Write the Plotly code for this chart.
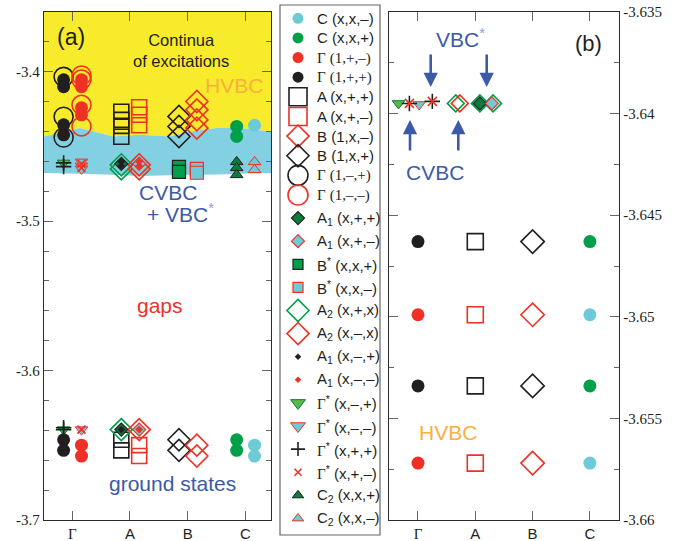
import plotly.graph_objects as go

W, H = 681, 541

# ---------------- data ----------------
k_labels = ["Γ", "A", "B", "C"]
k_index = {"G": 0, "A": 1, "B": 2, "C": 3}

# panel (a): energies per symmetry sector
G_1pp = [-3.4054, -3.4100, -3.4355, -3.4422, -3.6463, -3.6534]
G_1pm = [-3.4054, -3.4100, -3.4241, -3.4288, -3.6499, -3.6572]
G_1mp = [-3.4034, -3.4301, -3.4440]
G_1mm = [-3.4025, -3.4052, -3.4221, -3.4366]
A_xpp = [-3.4268, -3.4322, -3.4362, -3.4435, -3.6463, -3.6534]
A_xpm = [-3.4238, -3.4288, -3.4358, -3.6499, -3.6572]
B_1xp = [-3.4299, -3.4366, -3.4433, -3.6463, -3.6534]
B_1xm = [-3.4199, -3.4255, -3.4322, -3.4377, -3.6499, -3.6572]
C_xxp = [-3.4366, -3.4433, -3.6463, -3.6534]
C_xxm = [-3.4358, -3.6499, -3.6572]
A1_xpp = [-3.4616, -3.6395]
A1_xpm = [-3.4616, -3.6395]
Bs_xxp = [-3.4636, -3.4670]
Bs_xxm = [-3.4650, -3.4676]
A2_xpx = [-3.4623, -3.4650, -3.6395]
A2_xmx = [-3.4623, -3.4650, -3.6395]
A1_xmp = [-3.4603, -3.4630, -3.6395]
A1_xmm = [-3.4603, -3.4630, -3.6395]
Gs_xmp = [-3.4610, -3.6395]
Gs_xmm = [-3.4603, -3.4630, -3.4650, -3.6395]
Gs_xpp = [-3.4610, -3.4635, -3.6383, -3.6395]
Gs_xpm = [-3.4616, -3.4643, -3.6395]
C2_xxp = [-3.4603, -3.4643, -3.4690]
C2_xxm = [-3.4603, -3.4656]

# continuum boundaries in panel (a)
band_k = [-0.49, 0.134, 0.706, 1.174, 1.694, 2.04, 2.509, 2.908, 3.445]
hvbc_edge = [-3.4433, -3.4377, -3.4433, -3.4422, -3.4433, -3.4400, -3.4377, -3.4377, -3.4400]
cvbc_edge = [-3.4677, -3.4683, -3.4690, -3.4697, -3.4693, -3.4690, -3.4687, -3.4683, -3.4677]

# panel (b): near-degenerate excited states, spread out horizontally
b_top_sector = ["Gs_xmp", "Gs_xmm", "Gs_xpp", "Gs_xpm", "Gs_xpp", "Gs_xpm",
                "A2_xpx", "A2_xmx", "A2_xpx", "A2_xpx", "A1_xpp", "A1_xpm"]
b_top_k = [-0.34, 0.02, -0.15, -0.15, 0.25, 0.25, 0.66, 0.73, 1.08, 1.31, 1.08, 1.29]
b_top_E = [-3.6395, -3.63955, -3.6395, -3.6395, -3.6394, -3.6394,
           -3.6395, -3.6395, -3.6395, -3.6395, -3.6395, -3.6395]

sectors = {
    "G_1pp": ("G", -1, G_1pp), "G_1pm": ("G", 1, G_1pm),
    "G_1mp": ("G", -1, G_1mp), "G_1mm": ("G", 1, G_1mm),
    "A_xpp": ("A", -1, A_xpp), "A_xpm": ("A", 1, A_xpm),
    "B_1xp": ("B", -1, B_1xp), "B_1xm": ("B", 1, B_1xm),
    "C_xxp": ("C", -1, C_xxp), "C_xxm": ("C", 1, C_xxm),
    "A1_xpp": ("A", -1, A1_xpp), "A1_xpm": ("A", 1, A1_xpm),
    "Bs_xxp": ("B", -1, Bs_xxp), "Bs_xxm": ("B", 1, Bs_xxm),
    "A2_xpx": ("A", -1, A2_xpx), "A2_xmx": ("A", 1, A2_xmx),
    "A1_xmp": ("A", -1, A1_xmp), "A1_xmm": ("A", 1, A1_xmm),
    "Gs_xmp": ("G", -1, Gs_xmp), "Gs_xmm": ("G", 1, Gs_xmm),
    "Gs_xpp": ("G", -1, Gs_xpp), "Gs_xpm": ("G", 1, Gs_xpm),
    "C2_xxp": ("C", -1, C2_xxp), "C2_xxm": ("C", 1, C2_xxm),
}

legend_order = ["C_xxm", "C_xxp", "G_1pm", "G_1pp", "A_xpp", "A_xpm", "B_1xm", "B_1xp",
                "G_1mp", "G_1mm", "A1_xpp", "A1_xpm", "Bs_xxp", "Bs_xxm", "A2_xpx", "A2_xmx",
                "A1_xmp", "A1_xmm", "Gs_xmp", "Gs_xmm", "Gs_xpp", "Gs_xpm", "C2_xxp", "C2_xxm"]

GAM = '<span style="font-family:Liberation Serif">Γ</span>'
legend_labels = {
    "C_xxm": "C (x,x,–)", "C_xxp": "C (x,x,+)",
    "G_1pm": GAM + ' <span style="font-family:Liberation Serif">(1,+,–)</span>',
    "G_1pp": GAM + ' <span style="font-family:Liberation Serif">(1,+,+)</span>',
    "A_xpp": "A (x,+,+)", "A_xpm": "A (x,+,–)",
    "B_1xm": "B (1,x,–)", "B_1xp": "B (1,x,+)",
    "G_1mp": GAM + ' <span style="font-family:Liberation Serif">(1,–,+)</span>',
    "G_1mm": GAM + ' <span style="font-family:Liberation Serif">(1,–,–)</span>',
    "A1_xpp": "A<sub>1</sub> (x,+,+)", "A1_xpm": "A<sub>1</sub> (x,+,–)",
    "Bs_xxp": "B<sup>*</sup> (x,x,+)", "Bs_xxm": "B<sup>*</sup> (x,x,–)",
    "A2_xpx": "A<sub>2</sub> (x,+,x)", "A2_xmx": "A<sub>2</sub> (x,–,x)",
    "A1_xmp": "A<sub>1</sub> (x,–,+)", "A1_xmm": "A<sub>1</sub> (x,–,–)",
    "Gs_xmp": GAM + "<sup>*</sup> (x,–,+)", "Gs_xmm": GAM + "<sup>*</sup> (x,–,–)",
    "Gs_xpp": GAM + "<sup>*</sup> (x,+,+)", "Gs_xpm": GAM + "<sup>*</sup> (x,+,–)",
    "C2_xxp": "C<sub>2</sub> (x,x,+)", "C2_xxm": "C<sub>2</sub> (x,x,–)",
}

# ---------------- styles ----------------
BLACK = "#231f20"; RED = "#ee3124"; GREEN = "#00a04b"; DKGREEN = "#0a7d3e"
LGREEN = "#5cb848"; CYAN = "#6ccbd6"; BLUE = "#3d5aa8"; ORANGE = "#fbb03b"
YELLOW = "#f7eb2b"; BANDCYAN = "#83d0e2"
SANS = "Liberation Sans, Arial, sans-serif"
SERIF = "Liberation Serif, Times New Roman, serif"

# symbol, fill, edge, edge width, size in (a), legend, (b)
style = {
    "C_xxm": ("circle", CYAN, CYAN, 0, 13, 11, 13),
    "C_xxp": ("circle", GREEN, GREEN, 0, 13, 11, 13),
    "G_1pm": ("circle", RED, RED, 0, 13, 11, 13),
    "G_1pp": ("circle", BLACK, BLACK, 0, 13, 11, 13),
    "A_xpp": ("square-open", BLACK, BLACK, 1.6, 15, 18, 16),
    "A_xpm": ("square-open", RED, RED, 1.6, 15, 18, 16),
    "B_1xm": ("diamond-open", RED, RED, 1.6, 17, 17, 18),
    "B_1xp": ("diamond-open", BLACK, BLACK, 1.6, 17, 17, 18),
    "G_1mp": ("circle-open", BLACK, BLACK, 1.6, 19, 20, 19),
    "G_1mm": ("circle-open", RED, RED, 1.6, 19, 20, 19),
    "A1_xpp": ("diamond", DKGREEN, BLACK, 1.2, 10, 10, 10),
    "A1_xpm": ("diamond", CYAN, RED, 1.2, 10, 10, 10),
    "Bs_xxp": ("square", GREEN, BLACK, 1.2, 13, 10, 13),
    "Bs_xxm": ("square", CYAN, RED, 1.2, 13, 10, 13),
    "A2_xpx": ("diamond-open", GREEN, GREEN, 1.6, 17, 17, 13),
    "A2_xmx": ("diamond-open", RED, RED, 1.6, 17, 17, 13),
    "A1_xmp": ("diamond", BLACK, BLACK, 0, 6, 5, 6),
    "A1_xmm": ("diamond", RED, RED, 0, 6, 5, 6),
    "Gs_xmp": ("triangle-down", LGREEN, DKGREEN, 1.0, 11, 13, 11),
    "Gs_xmm": ("triangle-down", CYAN, RED, 1.0, 11, 13, 11),
    "Gs_xpp": ("cross-thin", BLACK, BLACK, 1.6, 11, 10, 11),
    "Gs_xpm": ("x-thin", RED, RED, 1.6, 8, 7, 9),
    "C2_xxp": ("triangle-up", DKGREEN, BLACK, 1.0, 11, 10, 11),
    "C2_xxm": ("triangle-up", CYAN, RED, 1.0, 11, 10, 11),
}


def marker(key, which):
    sym, fill, edge, lw, sa, sl, sb = style[key]
    size = {"a": sa, "l": sl, "b": sb}[which]
    return dict(symbol=sym, size=size, color=fill, line=dict(color=edge, width=lw), opacity=1)


# ---------------- geometry ----------------
A_DOM_X = [44 / W, 271 / W]
B_DOM_X = [389 / W, 619 / W]
DOM_Y = [1 - 520 / H, 1 - 12 / H]
A_XR = [-0.49, 3.445]
A_YR = [-3.70, -3.36]
B_XR = [-0.506, 3.508]
B_YR = [-3.66, -3.635]
DODGE = {-1: -0.15, 1: 0.16}


def bx(px):
    return B_XR[0] + (px - 389) / (619 - 389) * (B_XR[1] - B_XR[0])


def by(py):
    return B_YR[1] - (py - 12) / (520 - 12) * (B_YR[1] - B_YR[0])


def paper(px, py):
    return px / W, 1 - py / H


fig = go.Figure()

# continuum bands (panel a)
fig.add_trace(go.Scatter(x=band_k + band_k[::-1], y=hvbc_edge + [-3.30] * len(band_k),
                         fill="toself", fillcolor=YELLOW, mode="none",
                         xaxis="x", yaxis="y", hoverinfo="skip"))
fig.add_trace(go.Scatter(x=band_k + band_k[::-1], y=cvbc_edge + hvbc_edge[::-1],
                         fill="toself", fillcolor=BANDCYAN, mode="none",
                         xaxis="x", yaxis="y", hoverinfo="skip"))

draw_order = ["G_1pp", "G_1pm", "G_1mp", "G_1mm", "A_xpp", "A_xpm", "B_1xp", "B_1xm",
              "C_xxp", "C_xxm", "Gs_xmp", "Gs_xmm", "Gs_xpp", "Gs_xpm",
              "A2_xpx", "A2_xmx", "A1_xpp", "A1_xpm", "A1_xmp", "A1_xmm",
              "Bs_xxp", "Bs_xxm", "C2_xxp", "C2_xxm"]

# panel (a)
for key in draw_order:
    k, side, vals = sectors[key]
    xs = [k_index[k] + DODGE[side]] * len(vals)
    fig.add_trace(go.Scatter(x=xs, y=vals, mode="markers", marker=marker(key, "a"),
                             xaxis="x", yaxis="y", hoverinfo="skip"))

# panel (b): ground states (zoom of panel a, no dodge)
for key in ["G_1pp", "G_1pm", "A_xpp", "A_xpm", "B_1xp", "B_1xm", "C_xxp", "C_xxm"]:
    k, side, vals = sectors[key]
    fig.add_trace(go.Scatter(x=[k_index[k]] * len(vals), y=vals, mode="markers",
                             marker=marker(key, "b"), xaxis="x2", yaxis="y2",
                             hoverinfo="skip"))

# panel (b): top row
for key in ["Gs_xmp", "Gs_xmm", "Gs_xpp", "Gs_xpm", "A2_xpx", "A2_xmx", "A1_xpp", "A1_xpm"]:
    xs = [x for s, x in zip(b_top_sector, b_top_k) if s == key]
    ys = [e for s, e in zip(b_top_sector, b_top_E) if s == key]
    fig.add_trace(go.Scatter(x=xs, y=ys, mode="markers", marker=marker(key, "b"),
                             xaxis="x2", yaxis="y2", hoverinfo="skip"))


# custom legend (pixel-space overlay axis)
def row_y(i):
    return 18.3 + 19.63 * i if i < 10 else 195 + 23.1 * (i - 9)


annotations = []
for i, key in enumerate(legend_order):
    fig.add_trace(go.Scatter(x=[298], y=[row_y(i)], mode="markers", marker=marker(key, "l"),
                             xaxis="x3", yaxis="y3", hoverinfo="skip"))
    annotations.append(dict(x=315, y=row_y(i), xref="x3", yref="y3", text=legend_labels[key],
                            showarrow=False, xanchor="left", yanchor="middle",
                            font=dict(family=SANS, size=15, color=BLACK)))

# texts
texts = [
    ("(a)", 71, 37, 23, BLACK),
    ("Continua<br>of excitations", 181, 50, 16.5, BLACK),
    ("HVBC", 234, 85, 21, ORANGE),
    ("CVBC", 168, 192, 21, BLUE),
    ('+ VBC<sup><span style="color:#8ea2d4">*</span></sup>', 180, 213, 21, BLUE),
    ("gaps", 160, 305, 21, RED),
    ("ground states", 172, 483, 21, BLUE),
    ('VBC<sup><span style="color:#8ea2d4">*</span></sup>', 460, 38, 21, BLUE),
    ("CVBC", 435, 172, 21, BLUE),
    ("(b)", 588, 43, 22, BLACK),
    ("HVBC", 448, 432, 21, ORANGE),
]
for t, px, py, fs, col in texts:
    xp, yp = paper(px, py)
    annotations.append(dict(x=xp, y=yp, xref="paper", yref="paper", text=t, showarrow=False,
                            xanchor="center", yanchor="middle", align="center",
                            font=dict(family=SANS, size=fs, color=col)))

# arrows in panel (b)
for (hx, hy, tx, ty) in [(430.7, 87, 430.7, 53), (486.7, 87, 486.7, 53),
                         (410, 120, 410, 152), (458.3, 120, 458.3, 152)]:
    annotations.append(dict(x=bx(hx), y=by(hy), ax=bx(tx), ay=by(ty), xref="x2", yref="y2",
                            axref="x2", ayref="y2", text="", showarrow=True,
                            arrowhead=2, arrowsize=1.1, arrowwidth=2.6, arrowcolor=BLUE))

axis_common = dict(showline=True, linecolor="#2b2b2b", linewidth=1.4, mirror="ticks",
                   ticks="inside", ticklen=9, tickwidth=1.3, tickcolor="#666666",
                   showgrid=False, zeroline=False, fixedrange=True, automargin=False)

a_major = [-3.7, -3.6, -3.5, -3.4]
a_minor = [round(-3.7 + 0.02 * i, 2) for i in range(1, 18)]
a_minor = [v for v in a_minor if all(abs(v - m) > 1e-6 for m in a_major)]
b_major = [-3.66, -3.655, -3.65, -3.645, -3.64, -3.635]
b_minor = [-3.6575, -3.6525, -3.6475, -3.6425, -3.6375]
minor_style = dict(ticks="inside", ticklen=5, tickwidth=1.2, tickcolor="#666666",
                   showgrid=False, tickmode="array")

xticktext = [GAM if s == "Γ" else s for s in k_labels]

fig.update_layout(
    width=W, height=H, margin=dict(l=0, r=0, t=0, b=0, autoexpand=False),
    paper_bgcolor="white", plot_bgcolor="rgba(0,0,0,0)", showlegend=False,
    xaxis=dict(domain=A_DOM_X, range=A_XR, anchor="y", tickmode="array",
               tickvals=[0, 1, 2, 3], ticktext=xticktext,
               tickfont=dict(family=SANS, size=15, color=BLACK), **axis_common),
    yaxis=dict(domain=DOM_Y, range=A_YR, anchor="x", tickmode="array",
               tickvals=a_major, ticktext=["%.1f" % v for v in a_major],
               tickfont=dict(family=SERIF, size=15, color=BLACK),
               minor=dict(tickvals=a_minor, **minor_style), **axis_common),
    xaxis2=dict(domain=B_DOM_X, range=B_XR, anchor="y2", tickmode="array",
                tickvals=[0, 1, 2, 3], ticktext=xticktext,
                tickfont=dict(family=SANS, size=15, color=BLACK), **axis_common),
    yaxis2=dict(domain=DOM_Y, range=B_YR, anchor="x2", side="right", tickmode="array",
                tickvals=b_major, ticktext=["%g" % v for v in b_major],
                tickfont=dict(family=SERIF, size=15, color=BLACK),
                minor=dict(tickvals=b_minor, **minor_style), **axis_common),
    xaxis3=dict(domain=[0, 1], range=[0, W], visible=False, fixedrange=True, anchor="y3",
                automargin=False),
    yaxis3=dict(domain=[0, 1], range=[H, 0], visible=False, fixedrange=True, anchor="x3",
                automargin=False),
    annotations=annotations,
    shapes=[dict(type="rect", xref="paper", yref="paper",
                 x0=280 / W, x1=380 / W, y0=1 - 535 / H, y1=1 - 5 / H,
                 line=dict(color="#666666", width=1.2), fillcolor="rgba(0,0,0,0)")],
)

fig.write_html("out.html", config={"displayModeBar": False},
               post_script="document.body.style.margin='0';")
